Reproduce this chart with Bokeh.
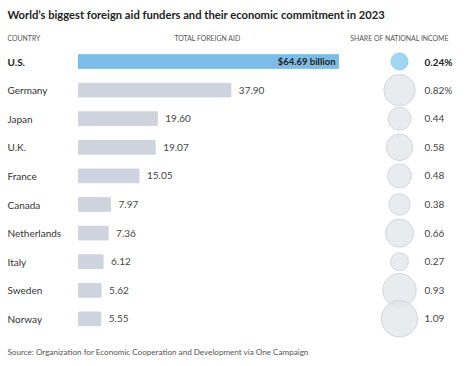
from bokeh.plotting import figure
from bokeh.models import Range1d, Label, ColumnDataSource
from bokeh.core.properties import value
from bokeh.embed import file_html
from bokeh.resources import INLINE
import math

countries = ["U.S.", "Germany", "Japan", "U.K.", "France", "Canada",
             "Netherlands", "Italy", "Sweden", "Norway"]
aid = [64.69, 37.90, 19.60, 19.07, 15.05, 7.97, 7.36, 6.12, 5.62, 5.55]
aid_labels = ["$64.69 billion", "37.90", "19.60", "19.07", "15.05", "7.97",
              "7.36", "6.12", "5.62", "5.55"]
share = [0.24, 0.82, 0.44, 0.58, 0.48, 0.38, 0.66, 0.27, 0.93, 1.09]
share_labels = ["0.24%", "0.82%", "0.44", "0.58", "0.48", "0.38", "0.66",
                "0.27", "0.93", "1.09"]

W, H = 468, 366
FONT = "Lato"
PX_PER_UNIT = 4.02
BAR_X0 = 78          # pixel where zero aid sits
ROW0 = 61            # pixel of first row centre from top
ROW_STEP = 28.6
CIRCLE_PX = 399
SHARE_LABEL_PX = 424
LEFT_PX = 7

x_start = -BAR_X0 / PX_PER_UNIT
x_end = x_start + W / PX_PER_UNIT
y_top = -ROW0 / ROW_STEP
y_bot = y_top + H / ROW_STEP

p = figure(width=W, height=H, output_backend="svg", toolbar_location=None,
           x_range=Range1d(x_start, x_end), y_range=Range1d(y_bot, y_top),
           min_border=0, outline_line_color=None)
p.extra_x_ranges = {"px": Range1d(0, W)}
p.xaxis.visible = False
p.yaxis.visible = False
p.grid.visible = False
p.background_fill_color = "white"
p.border_fill_color = "white"

n = len(countries)
idx = list(range(n))
bar_colors = ["#7cbde8"] + ["#cfd3de"] * (n - 1)
circle_fill = ["#80c8ec"] + ["#e2e5ea"] * (n - 1)
circle_line = ["#80c8ec"] + ["#c9cdd5"] * (n - 1)
sizes = [34.7 * math.sqrt(s) for s in share]

src = ColumnDataSource(dict(y=idx, country=countries, aid=aid,
                            bar_color=bar_colors, cfill=circle_fill,
                            cline=circle_line, size=sizes,
                            share_label=share_labels,
                            cx=[CIRCLE_PX] * n, lx=[SHARE_LABEL_PX] * n,
                            nx=[LEFT_PX] * n))

p.hbar(y="y", left=0, right="aid", height=0.48, color="bar_color", source=src)

# country labels
src_c_us = ColumnDataSource(dict(y=idx[:1], t=countries[:1], x=[LEFT_PX]))
src_c_rest = ColumnDataSource(dict(y=idx[1:], t=countries[1:], x=[LEFT_PX] * (n - 1)))
p.text(x="x", y="y", text="t", x_range_name="px", source=src_c_us,
       text_font=value(FONT), text_font_size="10px", text_color="#222222",
       text_font_style="bold", text_baseline="middle", text_align="left")
p.text(x="x", y="y", text="t", x_range_name="px", source=src_c_rest,
       text_font=value(FONT), text_font_size="10px", text_color="#333333",
       text_baseline="middle", text_align="left")

# aid labels
src_us = ColumnDataSource(dict(y=idx[:1], aid=aid[:1], t=aid_labels[:1]))
src_rest = ColumnDataSource(dict(y=idx[1:], aid=aid[1:], t=aid_labels[1:]))
p.text(x="aid", y="y", text="t", source=src_us, x_offset=-3,
       text_font=value(FONT), text_font_size="9.5px", text_font_style="bold",
       text_color="#222222", text_baseline="middle", text_align="right")
p.text(x="aid", y="y", text="t", source=src_rest, x_offset=8,
       text_font=value(FONT), text_font_size="10px", text_color="#444444",
       text_baseline="middle", text_align="left")

# circles
p.scatter(x="cx", y="y", size="size", x_range_name="px", source=src,
          fill_color="cfill", line_color="cline", fill_alpha=0.75,
          line_width=0.8)

src_s_us = ColumnDataSource(dict(y=idx[:1], t=share_labels[:1], x=[SHARE_LABEL_PX]))
src_s_rest = ColumnDataSource(dict(y=idx[1:], t=share_labels[1:], x=[SHARE_LABEL_PX] * (n - 1)))
p.text(x="x", y="y", text="t", x_range_name="px", source=src_s_us,
       text_font=value(FONT), text_font_size="10px", text_color="#222222",
       text_font_style="bold", text_baseline="middle", text_align="left")
p.text(x="x", y="y", text="t", x_range_name="px", source=src_s_rest,
       text_font=value(FONT), text_font_size="10px", text_color="#444444",
       text_baseline="middle", text_align="left")

# title, header, source
p.add_layout(Label(x=LEFT_PX, y=H - 14, x_units="screen", y_units="screen",
                   text="World\u2019s biggest foreign aid funders and their economic commitment in 2023",
                   text_font=FONT, text_font_size="11.2px", text_font_style="bold",
                   text_color="#222222", text_baseline="middle"))
hdr = dict(y=H - 37, x_units="screen", y_units="screen", text_font=FONT,
           text_font_size="6.9px", text_color="#555555", text_baseline="middle")
p.add_layout(Label(x=LEFT_PX, text="COUNTRY", **hdr))
p.add_layout(Label(x=207, text="TOTAL FOREIGN AID", text_align="center", **hdr))
p.add_layout(Label(x=399, text="SHARE OF NATIONAL INCOME", text_align="center", **hdr))
p.add_layout(Label(x=LEFT_PX, y=H - 351, x_units="screen", y_units="screen",
                   text="Source: Organization for Economic Cooperation and Development via One Campaign",
                   text_font=FONT, text_font_size="8.1px", text_color="#555555",
                   text_baseline="middle"))

open("out.html", "w").write(file_html(p, INLINE))
